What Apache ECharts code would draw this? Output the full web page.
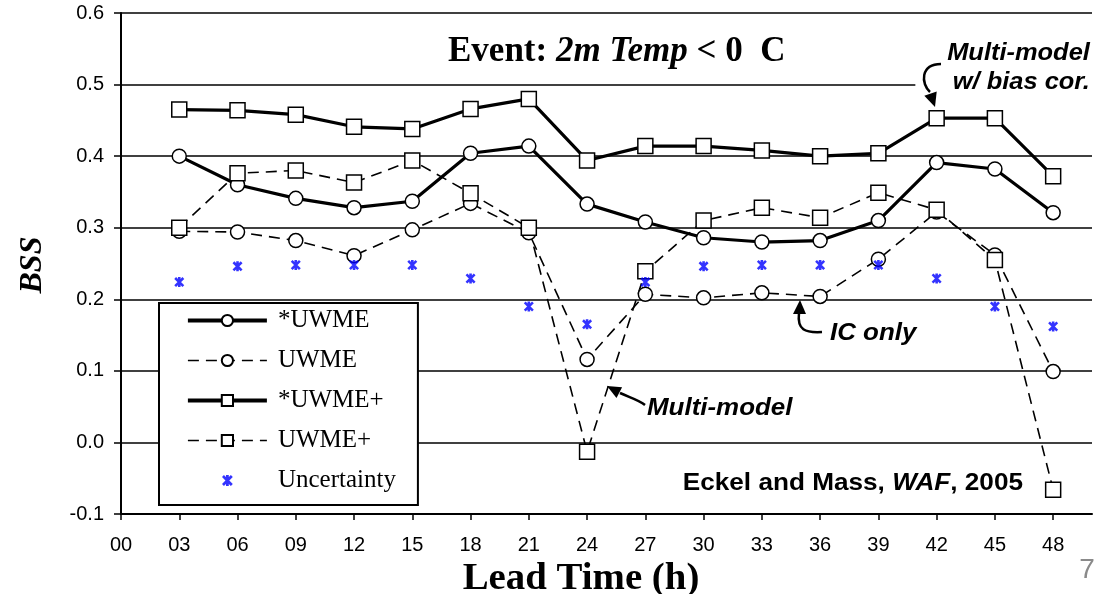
<!DOCTYPE html>
<html><head><meta charset="utf-8">
<script src="https://cdn.jsdelivr.net/npm/echarts@6/dist/echarts.min.js"></script>
<style>html,body{margin:0;padding:0;background:#fff}#c{width:1099px;height:594px}</style>
</head><body><div id="c"></div>
<script>
// ---- data ----
const hours = [3, 6, 9, 12, 15, 18, 21, 24, 27, 30, 33, 36, 39, 42, 45, 48];
const uwmeStar = [0.400, 0.360, 0.341, 0.328, 0.337, 0.404, 0.414, 0.333, 0.308, 0.286, 0.280, 0.282, 0.310, 0.391, 0.382, 0.321];
const uwme = [0.295, 0.294, 0.282, 0.261, 0.297, 0.334, 0.293, 0.116, 0.207, 0.202, 0.209, 0.204, 0.256, 0.322, 0.262, 0.099];
const uwmePlusStar = [0.465, 0.464, 0.458, 0.441, 0.438, 0.466, 0.480, 0.394, 0.414, 0.414, 0.408, 0.400, 0.404, 0.453, 0.453, 0.372];
const uwmePlus = [0.300, 0.376, 0.380, 0.363, 0.394, 0.348, 0.300, -0.013, 0.239, 0.310, 0.328, 0.314, 0.349, 0.325, 0.255, -0.066];
const uncertainty = [0.224, 0.246, 0.248, 0.248, 0.248, 0.229, 0.190, 0.165, 0.224, 0.246, 0.248, 0.248, 0.248, 0.229, 0.190, 0.162];
const seriesNames = ['*UWME', 'UWME', '*UWME+', 'UWME+', 'Uncertainty'];
const xTicks = [0, 3, 6, 9, 12, 15, 18, 21, 24, 27, 30, 33, 36, 39, 42, 45, 48];
const xTickLabels = ['00', '03', '06', '09', '12', '15', '18', '21', '24', '27', '30', '33', '36', '39', '42', '45', '48'];
const yTickLabels = ['-0.1', '0.0', '0.1', '0.2', '0.3', '0.4', '0.5', '0.6'];

// ---- chart ----
const SERIF = "'Liberation Serif','Times New Roman',serif";
const SANS = "'Liberation Sans',Arial,sans-serif";
const chart = echarts.init(document.getElementById('c'), null, { renderer: 'canvas' });
function pairs(vals) { return hours.map((h, i) => [h, vals[i]]); }
const asterisk = 'path://M37 0H63V100H37Z M0 18L18 0L100 82L82 100Z M82 0L100 18L18 100L0 82Z';
const asteriskLegend = 'path://M-15 -15L-14.9 -15L-15 -14.9Z M115 115L114.9 115L115 114.9Z M37 0H63V100H37Z M0 18L18 0L100 82L82 100Z M82 0L100 18L18 100L0 82Z';

const SOLID_W = 3.2, DASH_W = 1.6, DASH = [11, 7];
function lineSeries(name, vals, symbol, solid) {
  return {
    name: name, type: 'line', data: pairs(vals),
    symbol: symbol, symbolSize: symbol === 'rect' ? 15 : 14,
    lineStyle: solid ? { color: '#000', width: SOLID_W } : { color: '#000', width: DASH_W, type: DASH },
    itemStyle: { color: '#fff', borderColor: '#000', borderWidth: 1.5 },
    emphasis: { disabled: true }
  };
}
function arrowCurve(x1, y1, cpx1, cpy1, cpx2, cpy2, x2, y2) {
  return { type: 'bezierCurve', z: 10,
    shape: { x1: x1, y1: y1, cpx1: cpx1, cpy1: cpy1, cpx2: cpx2, cpy2: cpy2, x2: x2, y2: y2 },
    style: { stroke: '#000', lineWidth: 2.5, fill: null } };
}
function arrowHead(pts) { return { type: 'polygon', z: 10, shape: { points: pts }, style: { fill: '#000' } }; }

const option = {
  animation: false,
  grid: { left: 121, right: 7, top: 13, bottom: 80 },
  xAxis: {
    type: 'value', min: 0, max: 50,
    axisLine: { show: true, onZero: false, lineStyle: { color: '#000', width: 2 } },
    axisTick: { show: true, customValues: xTicks, length: 6, lineStyle: { color: '#000', width: 1.5 } },
    axisLabel: {
      customValues: xTicks, formatter: v => xTickLabels[xTicks.indexOf(v)],
      fontFamily: SANS, fontSize: 20, color: '#000', margin: 21
    },
    splitLine: { show: false }
  },
  yAxis: {
    type: 'value', min: -0.1, max: 0.6, interval: 0.1,
    axisLine: { show: true, lineStyle: { color: '#000', width: 2 } },
    axisTick: { show: true, length: 7, lineStyle: { color: '#000', width: 1.5 } },
    axisLabel: {
      formatter: v => yTickLabels[Math.round((v + 0.1) * 10)],
      fontFamily: SANS, fontSize: 20, color: '#000', margin: 17
    },
    splitLine: { show: true, lineStyle: { color: '#000', width: 1.5 } }
  },
  legend: {
    orient: 'vertical', left: 159, top: 303,
    padding: [5, 22, 12, 27], itemGap: 15, itemWidth: 79, itemHeight: 14,
    backgroundColor: '#fff', borderColor: '#000', borderWidth: 2,
    selectedMode: false,
    textStyle: { fontFamily: SERIF, fontSize: 25, color: '#000', padding: [0, 0, 0, 6] },
    data: [
      { name: seriesNames[0], lineStyle: { width: SOLID_W + 0.6 } },
      { name: seriesNames[1], lineStyle: { width: DASH_W } },
      { name: seriesNames[2], lineStyle: { width: SOLID_W + 0.6 } },
      { name: seriesNames[3], lineStyle: { width: DASH_W } },
      { name: seriesNames[4], icon: asteriskLegend }
    ]
  },
  series: [
    lineSeries(seriesNames[0], uwmeStar, 'circle', true),
    lineSeries(seriesNames[1], uwme, 'circle', false),
    lineSeries(seriesNames[2], uwmePlusStar, 'rect', true),
    lineSeries(seriesNames[3], uwmePlus, 'rect', false),
    {
      name: seriesNames[4], type: 'scatter', data: pairs(uncertainty),
      symbol: asterisk, symbolSize: 10, symbolKeepAspect: true,
      itemStyle: { color: '#0000ff' }, emphasis: { disabled: true }, z: 3
    }
  ],
  graphic: [
    { type: 'text', x: 448, y: 52, z: 10, style: {
      text: '{a|Event: }{b|2m Temp}{a| < 0  C}', align: 'left', verticalAlign: 'middle',
      rich: {
        a: { fontFamily: SERIF, fontSize: 35, fontWeight: 'bold', fill: '#000' },
        b: { fontFamily: SERIF, fontSize: 35, fontWeight: 'bold', fontStyle: 'italic', fill: '#000' }
      } } },
    { type: 'text', x: 1092, y: 68, z: 10, scaleX: 1.06, style: {
      text: 'Multi-model\nw/ bias cor.', align: 'right', verticalAlign: 'middle', lineHeight: 29,
      fontFamily: SANS, fontSize: 24, fontWeight: 'bold', fontStyle: 'italic', fill: '#000',
      backgroundColor: '#fff', padding: [4, 2, 4, 30] } },
    { type: 'text', x: 830, y: 333, z: 10, scaleX: 1.08, style: {
      text: 'IC only', align: 'left', verticalAlign: 'middle',
      fontFamily: SANS, fontSize: 24, fontWeight: 'bold', fontStyle: 'italic', fill: '#000' } },
    { type: 'text', x: 647, y: 408, z: 10, scaleX: 1.08, style: {
      text: 'Multi-model', align: 'left', verticalAlign: 'middle',
      fontFamily: SANS, fontSize: 24, fontWeight: 'bold', fontStyle: 'italic', fill: '#000' } },
    { type: 'text', x: 1023, y: 483, z: 10, scaleX: 1.09, style: {
      text: '{a|Eckel and Mass, }{b|WAF}{a|, 2005}', align: 'right', verticalAlign: 'middle',
      rich: {
        a: { fontFamily: SANS, fontSize: 24, fontWeight: 'bold', fill: '#000' },
        b: { fontFamily: SANS, fontSize: 24, fontWeight: 'bold', fontStyle: 'italic', fill: '#000' }
      } } },
    { type: 'text', x: 1087, y: 570, z: 10, style: {
      text: '7', align: 'center', verticalAlign: 'middle', fontFamily: SANS, fontSize: 28, fill: '#8a8a8a' } },
    { type: 'text', x: 581, y: 579, z: 10, scaleX: 1.05, style: {
      text: 'Lead Time (h)', align: 'center', verticalAlign: 'middle',
      fontFamily: SERIF, fontSize: 37, fontWeight: 'bold', fill: '#000' } },
    { type: 'text', x: 33, y: 265, z: 10, rotation: Math.PI / 2, style: {
      text: 'BSS', align: 'center', verticalAlign: 'middle',
      fontFamily: SERIF, fontSize: 32, fontWeight: 'bold', fontStyle: 'italic', fill: '#000' } },
    arrowCurve(941, 64, 920, 64, 921, 84, 930, 92),
    arrowHead([[936.7, 91.6], [924.3, 95.8], [935, 107]]),
    arrowCurve(822, 332, 805, 333, 797, 330, 799, 313),
    arrowHead([[793, 314], [806, 314], [800, 300]]),
    arrowCurve(645, 405, 639, 400, 631, 398, 620, 393),
    arrowHead([[616.5, 397.9], [622.1, 387.3], [607, 386]])
  ]
};
chart.setOption(option);
</script>
</body></html>
